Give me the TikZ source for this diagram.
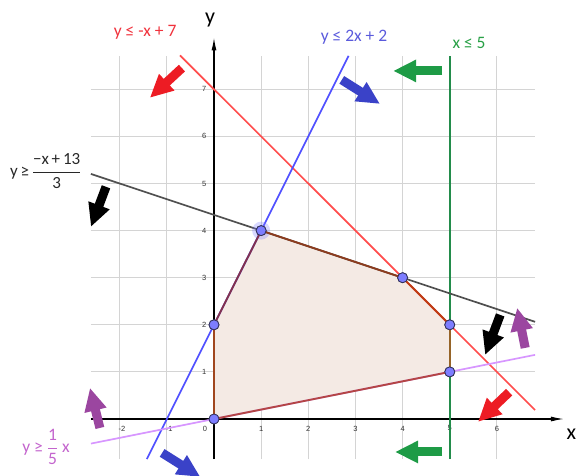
\documentclass[tikz,border=0pt]{standalone}
\usepackage{fontspec}
\setmainfont{Carlito}
\newfontfamily\tickfont{Liberation Sans}
\usetikzlibrary{arrows.meta}
\definecolor{gridgray}{RGB}{212,212,212}
\definecolor{redline}{RGB}{255,77,77}
\definecolor{blueline}{RGB}{80,80,255}
\definecolor{greenline}{RGB}{35,140,75}
\definecolor{blackline}{RGB}{80,80,80}
\definecolor{pinkline}{RGB}{215,150,255}
\definecolor{redarrow}{RGB}{237,28,36}
\definecolor{bluearrow}{RGB}{58,66,200}
\definecolor{greenarrow}{RGB}{30,155,70}
\definecolor{purplearrow}{RGB}{155,70,160}
\definecolor{polyfill}{RGB}{244,234,228}
\definecolor{ptblue}{RGB}{125,125,255}
\definecolor{ptedge}{RGB}{50,50,90}
\definecolor{redtext}{RGB}{240,50,60}
\definecolor{bluetext}{RGB}{90,90,220}
\definecolor{greentext}{RGB}{40,160,70}
\definecolor{blacktext}{RGB}{40,40,40}
\definecolor{pinktext}{RGB}{195,100,205}
\definecolor{tickgray}{RGB}{50,50,50}
\definecolor{eA}{RGB}{160,70,30}
\definecolor{eB}{RGB}{130,50,80}
\definecolor{eC}{RGB}{140,60,30}
\definecolor{eD}{RGB}{190,60,20}
\definecolor{eE}{RGB}{150,100,40}
\definecolor{eF}{RGB}{180,70,70}
\newcommand{\loosefrac}[2]{$\displaystyle\frac{\hbox{\rule[-4pt]{0pt}{14pt}#1}}{\hbox{\rule[-2pt]{0pt}{15pt}#2}}$}
\newcommand{\tightfrac}[2]{$\displaystyle\frac{\hbox{#1}}{\hbox{#2}}$}
\begin{document}
\begin{tikzpicture}[x=47.15pt,y=47.1pt,
  gridline/.style={draw=gridgray, line width=1pt},
  bdline/.style={line width=1.7pt},
  edgeline/.style={line width=1.9pt, line cap=round},
  bigarrow/.style={line width=9pt, -{Triangle[length=23pt,width=21pt]}},
  vtx/.style={circle, fill=ptblue, draw=ptedge, line width=0.8pt, inner sep=0pt, minimum size=10pt},
  ticklab/.style={font=\tickfont\fontsize{7.5}{8}\selectfont, text=tickgray, inner sep=1pt},
  ineq/.style={font=\fontsize{17.5}{20}\selectfont, inner sep=0pt},
  axislab/.style={font=\fontsize{22}{24}\selectfont, inner sep=0pt},
  axisline/.style={line width=1.2pt, -{Latex[length=13pt,width=5pt]}}]
\useasboundingbox (-214pt,-56pt) rectangle (364pt,419pt);
\clip (-214pt,-56pt) rectangle (364pt,419pt);
% grid
\foreach \i in {-2,...,6} \draw[gridline] (\i,-0.85) -- (\i,7.71);
\foreach \j in {1,...,7} \draw[gridline] (-2.61,\j) -- (6.81,\j);
% feasible region
\fill[polyfill] (0,0) -- (0,2) -- (1,4) -- (4,3) -- (5,2) -- (5,1) -- cycle;
% axes
\coordinate (xs) at (-2.61,0);
\coordinate (xe) at (7.42,0);
\coordinate (ys) at (0,-0.85);
\coordinate (ye) at (0,8.1);
\draw[axisline] (xs) -- (xe);
\draw[axisline] (ys) -- (ye);
\node[axislab] (ylab) at (-0.08,8.47) {y};
\node[axislab] (xlab) at (7.58,-0.33) {x};
% tick labels
\foreach \j in {1,...,7} \node[ticklab] (yt\j) at (-0.21,\j) {\j};
\foreach \i in {1,...,6} \node[ticklab] (xt\i) at (\i,-0.2) {\i};
\node[ticklab] (xt0) at (-0.19,-0.2) {0};
\node[ticklab] (xtm1) at (-0.95,-0.2) {-1};
\node[ticklab] (xtm2) at (-1.95,-0.2) {-2};
% boundary lines
\coordinate (rA) at (-0.72,7.72);  \coordinate (rB) at (6.81,0.19);
\coordinate (bA) at (-1.425,-0.85); \coordinate (bB) at (2.855,7.71);
\coordinate (gA) at (5,-0.85);      \coordinate (gB) at (5,7.71);
\coordinate (kA) at (-2.61,5.2033); \coordinate (kB) at (6.81,2.0633);
\coordinate (pA) at (-2.61,-0.522); \coordinate (pB) at (6.81,1.362);
\draw[bdline, redline] (rA) -- (rB);
\draw[bdline, blueline] (bA) -- (bB);
\draw[bdline, greenline] (gA) -- (gB);
\draw[bdline, blackline] (kA) -- (kB);
\draw[bdline, pinkline] (pA) -- (pB);
% vertices
\fill[ptblue, opacity=0.3] (1,4) circle (9pt);
\node[vtx] (v1) at (0,0) {};
\node[vtx] (v2) at (0,2) {};
\node[vtx] (v3) at (1,4) {};
\node[vtx] (v4) at (4,3) {};
\node[vtx] (v5) at (5,2) {};
\node[vtx] (v6) at (5,1) {};
% polygon edges
\draw[edgeline, eA] (v1.center) -- (v2.center);
\draw[edgeline, eB] (v2.center) -- (v3.center);
\draw[edgeline, eC] (v3.center) -- (v4.center);
\draw[edgeline, eD] (v4.center) -- (v5.center);
\draw[edgeline, eE] (v5.center) -- (v6.center);
\draw[edgeline, eF] (v6.center) -- (v1.center);
% redraw vertices on top
\node[vtx] at (v1) {};
\node[vtx] at (v2) {};
\node[vtx] at (v3) {};
\node[vtx] at (v4) {};
\node[vtx] at (v5) {};
\node[vtx] at (v6) {};
% direction arrows
\draw[bigarrow, redarrow] (-0.68,7.45) -- (-1.36,6.82);
\draw[bigarrow, redarrow] (6.26,0.57) -- (5.60,-0.06);
\draw[bigarrow, bluearrow] (2.71,7.20) -- (3.52,6.69);
\draw[bigarrow, bluearrow] (-1.10,-0.72) -- (-0.29,-1.23);
\draw[bigarrow, greenarrow] (4.84,7.39) -- (3.80,7.39);
\draw[bigarrow, greenarrow] (4.84,-0.70) -- (3.84,-0.70);
\draw[bigarrow, black] (-2.29,4.93) -- (-2.61,4.08);
\draw[bigarrow, black] (6.07,2.21) -- (5.75,1.36);
\draw[bigarrow, purplearrow] (6.60,1.51) -- (6.43,2.36);
\draw[bigarrow, purplearrow] (-2.42,-0.19) -- (-2.63,0.66);
% inequality labels
\node[ineq, text=redtext] (lr) at (-1.46,8.20) {y ≤ -x + 7};
\node[ineq, text=bluetext] (lb) at (2.97,8.11) {y ≤ 2x + 2};
\node[ineq, text=greentext] (lg) at (5.41,7.98) {x ≤ 5};
\node[ineq, text=blacktext, anchor=west, font=\fontsize{17}{20}\selectfont] (lk) at (-4.33,5.25)
  {y\,≥\,\loosefrac{−x\,+\,13}{3}};
\node[ineq, text=pinktext, anchor=west] (lp) at (-4.07,-0.59)
  {y\hspace{4pt}≥\hspace{4pt}\tightfrac{1}{5}\hspace{4pt}x};
\end{tikzpicture}
\end{document}
